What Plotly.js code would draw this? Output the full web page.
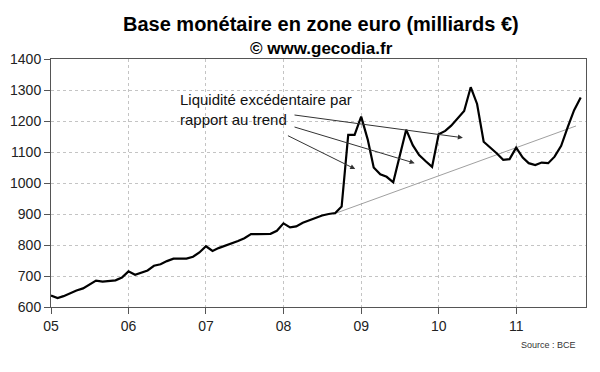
<!DOCTYPE html>
<html>
<head>
<meta charset="utf-8">
<script src="https://cdn.plot.ly/plotly-3.0.1.min.js"></script>
<style>html,body{margin:0;padding:0;background:#fff;}#chart{width:600px;height:372px;}</style>
</head>
<body>
<div id="chart"></div>
<script>
// Monthly months from Jan 2005 to Nov 2011
const startYear = 2005;
const baseValues = [
  // 2005
  637, 629, 635, 645, 653, 660, 672, 685, 682, 684, 686, 695,
  // 2006
  715, 704, 710, 718, 733, 738, 748, 756, 756, 756, 762, 776,
  // 2007
  796, 781, 790, 797, 805, 813, 822, 835, 835, 835, 836, 846,
  // 2008
  870, 857, 860, 872, 880, 886, 895, 900, 903, 924, 1155, 1155,
  // 2009
  1214, 1140, 1050, 1028, 1020, 1002, 1090, 1172, 1122, 1090, 1070, 1052,
  // 2010
  1157, 1168, 1185, 1208, 1232, 1309, 1255, 1133, 1115, 1096, 1075, 1077,
  // 2011
  1114, 1082, 1064, 1058, 1066, 1064, 1085, 1120, 1180, 1235, 1276
];
const trendDates = ['2008-09-01', '2011-10-10'];
const trendValues = [902, 1184];
const yearTicks = ['2005-01-01','2006-01-01','2007-01-01','2008-01-01','2009-01-01','2010-01-01','2011-01-01'];
const yearLabels = ['05','06','07','08','09','10','11'];

// arrow heads / tails (date, value)
const arrowHeads = [['2010-04-25', 1146], ['2009-09-10', 1064], ['2008-12-04', 1045]];
const arrowTails = [['2008-02-15', 1220], ['2008-02-15', 1182], ['2008-01-15', 1155]];

const dates = baseValues.map((v, i) => {
  const y = startYear + Math.floor(i / 12);
  const m = (i % 12) + 1;
  return y + '-' + (m < 10 ? '0' + m : m) + '-01';
});

const font = 'Liberation Sans, Arial, sans-serif';

const traces = [
  {x: trendDates, y: trendValues, mode: 'lines', line: {color: '#a0a0a0', width: 1}, hoverinfo: 'skip'},
  {x: dates, y: baseValues, mode: 'lines', line: {color: '#000', width: 2.2}}
];

const annotations = [
  {xref: 'paper', yref: 'paper', x: 0.505, y: 1, xanchor: 'center', yanchor: 'bottom',
   text: '<b>Base monétaire en zone euro (milliards €)</b>', showarrow: false,
   font: {family: font, size: 20, color: '#000'}, yshift: 22},
  {xref: 'paper', yref: 'paper', x: 0.505, y: 1, xanchor: 'center', yanchor: 'bottom',
   text: '<b>© www.gecodia.fr</b>', showarrow: false,
   font: {family: font, size: 17, color: '#000'}, yshift: -1},
  {xref: 'paper', yref: 'paper', x: 0.985, y: 0, xanchor: 'right', yanchor: 'top', yshift: -31,
   text: 'Source : BCE', showarrow: false, font: {family: font, size: 9, color: '#333'}},
  {xref: 'x', yref: 'y', x: '2006-08-20', y: 1236, xanchor: 'left', yanchor: 'middle', align: 'left',
   text: 'Liquidité excédentaire par<br>rapport au trend', showarrow: false,
   font: {family: font, size: 15, color: '#111'}}
];
arrowHeads.forEach((h, i) => {
  annotations.push({
    xref: 'x', yref: 'y', x: h[0], y: h[1],
    axref: 'x', ayref: 'y', ax: arrowTails[i][0], ay: arrowTails[i][1],
    text: '', showarrow: true, arrowhead: 2, arrowsize: 1, arrowwidth: 1, arrowcolor: '#333'
  });
});

const layout = {
  width: 600, height: 372,
  margin: {l: 51, r: 14, t: 59, b: 65},
  paper_bgcolor: '#fff', plot_bgcolor: '#fff',
  showlegend: false,
  xaxis: {
    type: 'date', range: ['2005-01-01', '2011-11-26'],
    tickvals: yearTicks, ticktext: yearLabels,
    showgrid: true, gridcolor: '#c4c4c4', griddash: 'dot', gridwidth: 1,
    showline: true, linecolor: '#555', linewidth: 1, mirror: true,
    ticks: 'outside', ticklen: 6, tickcolor: '#555',
    tickfont: {family: font, size: 14, color: '#222'},
    zeroline: false
  },
  yaxis: {
    range: [600, 1400], dtick: 100, tick0: 600,
    showgrid: true, gridcolor: '#c4c4c4', griddash: 'dot', gridwidth: 1,
    showline: true, linecolor: '#555', linewidth: 1, mirror: true,
    ticks: 'outside', ticklen: 6, tickcolor: '#555',
    tickfont: {family: font, size: 14, color: '#222'},
    zeroline: false
  },
  annotations: annotations
};

Plotly.newPlot('chart', traces, layout, {staticPlot: true, displayModeBar: false});
</script>
</body>
</html>
